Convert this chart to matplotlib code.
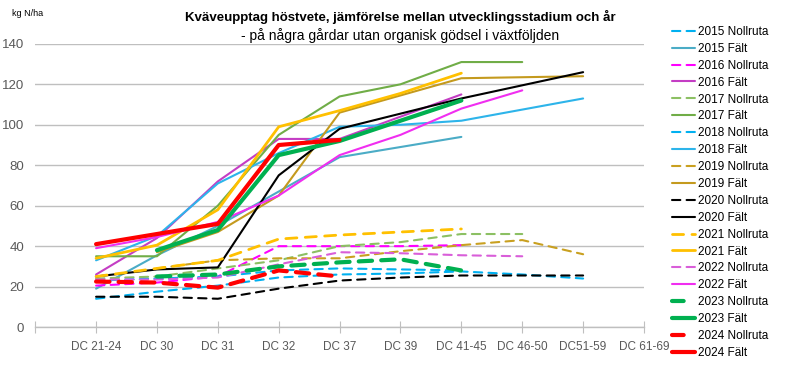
import numpy as np
import matplotlib
matplotlib.use("Agg")
import matplotlib.pyplot as plt

plt.rcParams['font.family'] = ['Liberation Sans', 'DejaVu Sans']

n = np.nan

stages = ['DC 21-24', 'DC 30', 'DC 31', 'DC 32', 'DC 37', 'DC 39',
          'DC 41-45', 'DC 46-50', 'DC51-59', 'DC 61-69']

# kg N/ha per stage (nan = not measured)
nollruta_2015 = [14, 17.5, 20.5, 24.5, 26, 26.5, 27.5, 26, 24, n]
falt_2015 = [19, 35.5, 50, 67, 84, 89, 94, n, n, n]
nollruta_2016 = [20.5, 22, 25, 40, 40, 40, 40.5, n, n, n]
falt_2016 = [26, 44, 72, 93, 93, 104, 115, n, n, n]
nollruta_2017 = [24, 25, 29, 33, 40, 42, 46, 46, n, n]
falt_2017 = [35, 35, 60, 95, 114, 120, 131, 131, n, n]
nollruta_2018 = [23, 24, 25, 28, 29, 28.5, 28, n, n, n]
falt_2018 = [33, 45, 71, 86, 99, 100, 102, 107.5, 113, n]
nollruta_2019 = [n, 29, 33, 34, 34, 37.5, 40.5, 43, 36, n]
falt_2019 = [n, 37, 47, 65, 106, 114.5, 123, 123.5, 124, n]
nollruta_2020 = [15, 15, 14, 19, 23, 24.5, 25.5, 25.5, 25.5, n]
falt_2020 = [25, 28.5, 29.5, 75, 98, 105.5, 113, 119.5, 126, n]
nollruta_2021 = [25, 29, 33, 43.5, 45.5, 47, 48.5, n, n, n]
falt_2021 = [34, 40.5, 58, 99, 107, 115.5, 125.5, n, n, n]
nollruta_2022 = [23.5, 23.5, 24.5, 31, 37, 36.5, 35.5, 35, n, n]
falt_2022 = [39, 44.5, 52, 65, 85, 95, 108, 117, n, n]
nollruta_2023 = [n, 25, 26, 30, 32, 33.5, 28, n, n, n]
falt_2023 = [n, 38, 48, 85, 92, 102, 112, n, n, n]
nollruta_2024 = [22.5, 22, 19.5, 28, 25, n, n, n, n, n]
falt_2024 = [41, 46, 51, 90, 92.5, n, n, n, n, n]

series = [
    ('2015 Nollruta', nollruta_2015, '#00B0F0', 1.5, (4, 3)),
    ('2015 Fält', falt_2015, '#4BACC6', 1.5, None),
    ('2016 Nollruta', nollruta_2016, '#FF00FF', 1.5, (4, 3)),
    ('2016 Fält', falt_2016, '#C43DC4', 1.5, None),
    ('2017 Nollruta', nollruta_2017, '#8CC063', 1.5, (4, 3)),
    ('2017 Fält', falt_2017, '#70AD47', 1.5, None),
    ('2018 Nollruta', nollruta_2018, '#00B0F0', 1.5, (4, 3)),
    ('2018 Fält', falt_2018, '#2DB4EA', 1.5, None),
    ('2019 Nollruta', nollruta_2019, '#C9A020', 1.5, (4, 3)),
    ('2019 Fält', falt_2019, '#C49A1E', 1.5, None),
    ('2020 Nollruta', nollruta_2020, '#000000', 1.5, (4, 3)),
    ('2020 Fält', falt_2020, '#000000', 1.5, None),
    ('2021 Nollruta', nollruta_2021, '#FFC000', 2.0, (4, 3)),
    ('2021 Fält', falt_2021, '#FFC000', 2.0, None),
    ('2022 Nollruta', nollruta_2022, '#D95ED9', 1.5, (4, 3)),
    ('2022 Fält', falt_2022, '#F02EF0', 1.5, None),
    ('2023 Nollruta', nollruta_2023, '#00B050', 3.0, (3.2, 2.2)),
    ('2023 Fält', falt_2023, '#00B050', 3.0, None),
    ('2024 Nollruta', nollruta_2024, '#FF0000', 3.0, (3.2, 2.2)),
    ('2024 Fält', falt_2024, '#FF0000', 3.0, None),
]

fig = plt.figure(figsize=(8, 3.88), dpi=100)
ax = fig.add_axes([0.044, 0.157, 0.761, 0.73])

x = np.arange(1, len(stages) + 1)
for label, vals, col, lw, dash in series:
    if dash is None:
        ax.plot(x, vals, color=col, lw=lw, label=label, solid_capstyle='round')
    else:
        ax.plot(x, vals, color=col, lw=lw, label=label, dashes=dash,
                dash_capstyle='round')

ax.set_xlim(0, len(stages))
ax.set_ylim(0, 140)
ax.set_yticks(range(0, 141, 20))
ax.set_xticks(range(0, len(stages) + 1))
ax.set_xticklabels([''] + stages)
ax.grid(axis='y', color='#BFBFBF', lw=1)
ax.set_axisbelow(True)
for s in ['top', 'right', 'left']:
    ax.spines[s].set_visible(False)
ax.spines['bottom'].set_color('#BFBFBF')
ax.spines['bottom'].set_linewidth(1)
ax.tick_params(axis='y', length=0, labelsize=9.5, labelcolor='#595959', pad=8)
ax.tick_params(axis='x', direction='inout', length=8, color='#BFBFBF',
               labelsize=8.5, labelcolor='#595959', pad=6)

fig.text(0.5, 0.955, 'Kväveupptag höstvete, jämförelse mellan utvecklingsstadium och år',
         ha='center', va='center', fontsize=9.5, fontweight='bold')
fig.text(0.5, 0.908, '- på några gårdar utan organisk gödsel i växtföljden',
         ha='center', va='center', fontsize=10)
fig.text(0.015, 0.965, 'kg N/ha', ha='left', va='center', fontsize=6.5)

leg = ax.legend(loc='upper left', bbox_to_anchor=(1.038, 1.08), frameon=False,
                fontsize=8.5, handlelength=2.0, handletextpad=0.2,
                labelspacing=0.415, borderaxespad=0)
# thick dashed entries show a single dash in the legend
for h, txt in zip(leg.get_lines(), leg.get_texts()):
    if txt.get_text() in ('2023 Nollruta', '2024 Nollruta'):
        h.set_dashes((2.8, 6))

fig.savefig('out.png', dpi=100)
